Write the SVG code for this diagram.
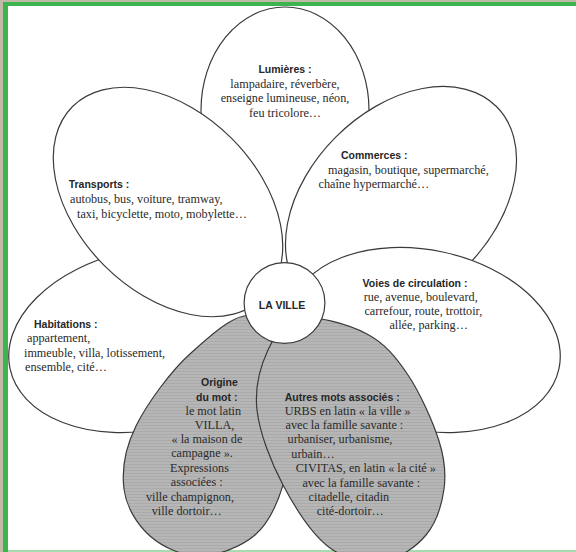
<svg xmlns="http://www.w3.org/2000/svg" width="576" height="552" viewBox="0 0 576 552">
<style>
.p{fill:#fff;stroke:#3a3a3a;stroke-width:1.2}
.g{fill:url(#grain);stroke:#3a3a3a;stroke-width:1.2}
.t{font-family:"Liberation Sans",Arial,sans-serif;font-weight:bold;font-size:10.5px;fill:#262626}
.b{font-family:"Liberation Serif","Times New Roman",serif;font-size:12.2px;fill:#2a2a2a}
.c{text-anchor:middle}
</style>
<defs>
<pattern id="grain" width="6" height="3" patternUnits="userSpaceOnUse">
<rect width="6" height="3" fill="#b6b6b6"/>
<rect y="2" width="6" height="1" fill="#aaaaaa"/>
</pattern>
</defs>
<rect x="0" y="0" width="576" height="552" fill="#c2baa8"/>
<rect x="3" y="2" width="573" height="550" fill="#3db54e"/>
<rect x="8" y="6" width="568" height="544" fill="#ffffff"/>
<rect x="8" y="550" width="568" height="2" fill="#a6dbb0"/>

<g id="lumieres">
<path class="p" d="M201,110 A84,103 0 0 1 369,110 C369,180 330,260 300,305 L270,305 C240,260 201,180 201,110 Z"/>
<text class="t c" x="285" y="73">Lumières :</text>
<text class="b c" x="285" y="88">lampadaire, réverbère,</text>
<text class="b c" x="285" y="102">enseigne lumineuse, néon,</text>
<text class="b c" x="285" y="116.5">feu tricolore…</text>
</g>

<g id="habitations">
<ellipse class="p" cx="145" cy="340" rx="138" ry="90" transform="rotate(-12 145 340)"/>
<text class="t" x="34" y="327.5">Habitations :</text>
<text class="b" x="27" y="342">appartement,</text>
<text class="b" x="24" y="357">immeuble, villa, lotissement,</text>
<text class="b" x="25" y="371">ensemble, cité…</text>
</g>

<g id="commerces">
<ellipse class="p" cx="401" cy="202" rx="135" ry="92" transform="rotate(-45 401 202)"/>
<text class="t" x="341" y="159">Commerces :</text>
<text class="b" x="328" y="173.5">magasin, boutique, supermarché,</text>
<text class="b" x="318.5" y="187.5">chaîne hypermarché…</text>
</g>

<g id="transports">
<ellipse class="p" cx="168" cy="202" rx="135" ry="90" transform="rotate(45 168 202)"/>
<text class="t" x="68.7" y="188">Transports :</text>
<text class="b" x="70" y="203">autobus, bus, voiture, tramway,</text>
<text class="b" x="77" y="217.5">taxi, bicyclette, moto, mobylette…</text>
</g>

<g id="voies">
<ellipse class="p" cx="424" cy="340" rx="138" ry="90" transform="rotate(12 424 340)"/>
<text class="t" x="362.6" y="286.5">Voies de circulation :</text>
<text class="b" x="363.7" y="300.5">rue, avenue, boulevard,</text>
<text class="b" x="364.4" y="315">carrefour, route, trottoir,</text>
<text class="b" x="389.4" y="329">allée, parking…</text>
</g>

<g id="origine">
<path class="g" d="M257,318 C240.5,306.8 211.2,335 191,353 C170.8,371 147.2,403.3 136,426 C124.8,448.7 121.7,470.7 124,489 C126.3,507.3 137.3,524.8 150,536 C162.7,547.2 182.5,556.2 200,556 C217.5,555.8 241.2,546.8 255,535 C268.8,523.2 277.2,504.2 283,485 C288.8,465.8 294.3,447.8 290,420 C285.7,392.2 273.5,329.2 257,318 Z"/>
<text class="t" x="201" y="385.5">Origine</text>
<text class="t" x="196" y="400.5">du mot :</text>
<text class="b" x="185.5" y="414.5">le mot latin</text>
<text class="b" x="194.7" y="428.5">VILLA,</text>
<text class="b" x="171.6" y="442.5">« la maison de</text>
<text class="b" x="171.2" y="457">campagne ».</text>
<text class="b" x="170" y="472">Expressions</text>
<text class="b" x="170.8" y="486">associées :</text>
<text class="b" x="146" y="501">ville champignon,</text>
<text class="b" x="151.7" y="515">ville dortoir…</text>
</g>

<g id="autres">
<path class="g" d="M300,318 C316.5,315.3 349,324.5 367,334 C385,343.5 396,357.2 408,375 C420,392.8 433,422 439,441 C445,460 446.2,473.3 444,489 C441.8,504.7 435.8,523.2 426,535 C416.2,546.8 401,557.8 385,560 C369,562.2 347,560.5 330,548 C313,535.5 295.2,508 283,485 C270.8,462 259.5,432.5 257,410 C254.5,387.5 260.8,365.3 268,350 C275.2,334.7 283.5,320.7 300,318 Z"/>
<text class="t" x="284.7" y="400.5">Autres mots associés :</text>
<text class="b" x="284.7" y="414.5">URBS en latin « la ville »</text>
<text class="b" x="285.5" y="428.5">avec la famille savante :</text>
<text class="b" x="287.6" y="443">urbaniser, urbanisme,</text>
<text class="b" x="291.3" y="458">urbain…</text>
<text class="b" x="295.7" y="472">CIVITAS, en latin « la cité »</text>
<text class="b" x="302.4" y="486.5">avec la famille savante :</text>
<text class="b" x="308.6" y="501">citadelle, citadin</text>
<text class="b" x="316.7" y="515">cité-dortoir…</text>
</g>

<g id="la-ville">
<circle class="p" cx="284.5" cy="303" r="40.4"/>
<text class="t c" x="282" y="309">LA VILLE</text>
</g>
</svg>
